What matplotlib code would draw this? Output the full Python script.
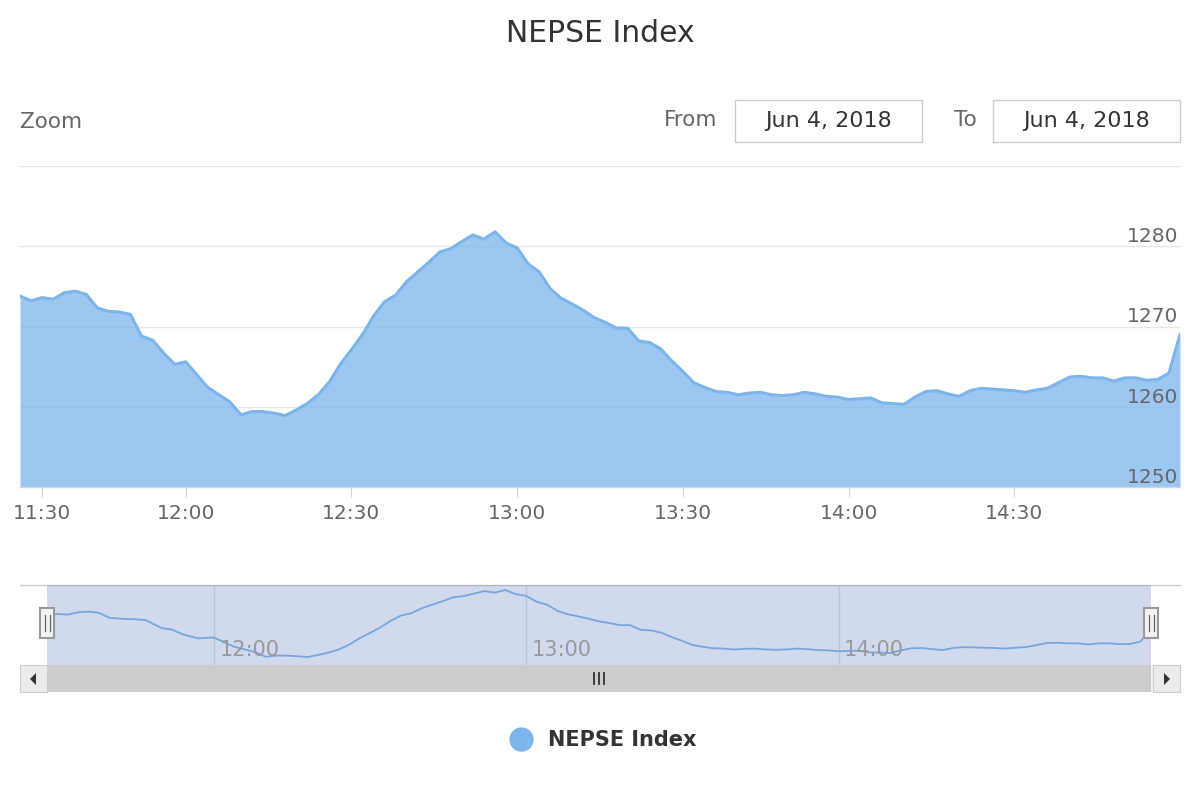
import matplotlib.pyplot as plt
import matplotlib.patches as mpatches
from matplotlib.lines import Line2D
import numpy as np
import pandas as pd

# NEPSE index intraday, Jun 4 2018 (ordinal spacing like Highstock)
open_times = ["11:28", "11:29", "11:30", "11:32", "11:34", "11:36", "11:38", "11:40",
              "11:43", "11:45", "11:47", "11:50", "11:52", "11:54", "11:57"]
later_times = list(pd.date_range("2018-06-04 12:00", "2018-06-04 15:00", freq="2min").strftime("%H:%M"))
times = open_times + later_times

values = [1273.8, 1273.2, 1273.6, 1273.4, 1274.2, 1274.4, 1274.0, 1272.3, 1271.9, 1271.8,
          1271.5, 1268.8, 1268.3, 1266.7, 1265.3, 1265.6, 1264.0, 1262.4, 1261.5, 1260.6,
          1259.0, 1259.4, 1259.4, 1259.2, 1258.9, 1259.6, 1260.4, 1261.5, 1263.1, 1265.3,
          1267.1, 1269.0, 1271.3, 1273.1, 1273.9, 1275.6, 1276.8, 1278.0, 1279.3, 1279.7,
          1280.6, 1281.4, 1280.9, 1281.8, 1280.4, 1279.8, 1277.8, 1276.8, 1274.7, 1273.5,
          1272.8, 1272.0, 1271.1, 1270.5, 1269.8, 1269.8, 1268.2, 1268.0, 1267.2, 1265.7,
          1264.4, 1263.0, 1262.4, 1261.9, 1261.8, 1261.5, 1261.7, 1261.8, 1261.5, 1261.4,
          1261.5, 1261.8, 1261.6, 1261.3, 1261.2, 1260.9, 1261.0, 1261.1, 1260.5, 1260.4,
          1260.3, 1261.2, 1261.9, 1262.0, 1261.6, 1261.3, 1262.0, 1262.3, 1262.2, 1262.1,
          1262.0, 1261.8, 1262.1, 1262.3, 1263.0, 1263.7, 1263.8, 1263.6, 1263.6, 1263.2,
          1263.6, 1263.6, 1263.3, 1263.4, 1264.2, 1269.0]

series_name = "NEPSE Index"
x_tick_labels = ["11:30", "12:00", "12:30", "13:00", "13:30", "14:00", "14:30"]
nav_tick_labels = ["12:00", "13:00", "14:00"]
y_grid = [1250, 1260, 1270, 1280, 1290]
y_labels = [1250, 1260, 1270, 1280]
date_from = "Jun 4, 2018"
date_to = "Jun 4, 2018"

W, H = 1200, 800
blue = "#7cb5ec"
mask_col = (102 / 255, 133 / 255, 194 / 255)


def fig_rect(left, top, right, bottom):
    return [left / W, 1 - bottom / H, (right - left) / W, (bottom - top) / H]


fig = plt.figure(figsize=(12, 8), dpi=100)

# main chart
ax = fig.add_axes(fig_rect(20, 166, 1180, 487))
idx = np.arange(len(values))
ax.fill_between(idx, values, 1250, color=blue, alpha=0.75, lw=0, zorder=2)
ax.plot(idx, values, color=blue, lw=2.2, zorder=3, solid_joinstyle="round")
ax.set_xlim(0, len(values) - 1)
ax.set_ylim(1250, 1290)
ax.set_yticks(y_grid)
ax.tick_params(axis="y", length=0, labelleft=False)
ax.grid(axis="y", color="#e6e6e6", lw=1)
ax.set_axisbelow(True)
for s in ["top", "left", "right"]:
    ax.spines[s].set_visible(False)
ax.spines["bottom"].set_color("#ccd6eb")
ax.spines["bottom"].set_linewidth(1)
ax.set_xticks([times.index(t) for t in x_tick_labels], x_tick_labels)
ax.tick_params(axis="x", length=7.5, width=0.8, color="#ccd6eb",
               labelsize=14.5, labelcolor="#666666", pad=5)
for v in y_labels:
    ax.annotate(f"{v}", xy=(1, v), xycoords=("axes fraction", "data"),
                xytext=(-1.5, 3), textcoords="offset points", ha="right",
                va="baseline", fontsize=14.5, color="#666666", zorder=5)

# navigator
nav = fig.add_axes(fig_rect(20, 585, 1180, 665))
mins = np.array([int(t[:2]) * 60 + int(t[3:]) for t in times])
frac_lo, frac_hi = 27 / 1160, 1131 / 1160
full = (mins[-1] - mins[0]) / (frac_hi - frac_lo)
lo = mins[0] - frac_lo * full
nav.set_xlim(lo, lo + full)
nav.set_ylim(1256.2, 1283.5)
nav.plot(mins, values, color=blue, lw=1.3, zorder=2)
nav.axvspan(mins[0], mins[-1], color=mask_col, alpha=0.3, lw=0, zorder=3)
for t in nav_tick_labels:
    tm = int(t[:2]) * 60 + int(t[3:])
    nav.axvline(tm, color="#e0e0e0", lw=1, zorder=1)
    nav.annotate(t, xy=(tm, 0), xycoords=("data", "axes fraction"),
                 xytext=(4, 6.5), textcoords="offset points", ha="left",
                 va="baseline", fontsize=15, color="#999999", zorder=4)
nav.set_xticks([])
nav.set_yticks([])
for s in ["left", "right", "bottom"]:
    nav.spines[s].set_visible(False)
nav.spines["top"].set_color("#cccccc")
nav.spines["top"].set_linewidth(1)

# overlay in pixel coordinates for the UI bits
ov = fig.add_axes([0, 0, 1, 1])
ov.set_xlim(0, W)
ov.set_ylim(H, 0)
ov.axis("off")

fig.text(0.5, 1 - 33 / H, series_name, ha="center", va="center",
         fontsize=21.5, color="#333333")
ov.text(20, 122, "Zoom", ha="left", va="center", fontsize=15.5, color="#666666")
ov.text(717, 120, "From", ha="right", va="center", fontsize=15.5, color="#666666")
ov.text(977, 120, "To", ha="right", va="center", fontsize=15.5, color="#666666")
for bx, label in [(735, date_from), (993, date_to)]:
    ov.add_patch(mpatches.Rectangle((bx, 100), 187, 42, fc="white", ec="#cccccc", lw=1))
    ov.text(bx + 93.5, 121, label, ha="center", va="center", fontsize=16, color="#333333")

# scrollbar
ov.add_patch(mpatches.Rectangle((20, 665), 1160, 27, fc="#f2f2f2", ec="none"))
ov.add_patch(mpatches.Rectangle((47, 665), 1104, 27, fc="#cccccc", ec="none"))
ov.add_patch(mpatches.Rectangle((20, 665), 27, 27, fc="#ebebeb", ec="#cccccc", lw=0.8))
ov.add_patch(mpatches.Rectangle((1153, 665), 27, 27, fc="#ebebeb", ec="#cccccc", lw=0.8))
ov.add_patch(mpatches.Polygon([(36, 673), (36, 685), (30, 679)], fc="#333333", ec="none"))
ov.add_patch(mpatches.Polygon([(1164, 673), (1164, 685), (1170, 679)], fc="#333333", ec="none"))
for rx in [594, 599, 604]:
    ov.plot([rx, rx], [673, 684], color="#333333", lw=1.3)

# navigator handles
for hx in [47, 1151]:
    ov.add_patch(mpatches.Rectangle((hx - 7, 608), 14, 30, fc="#f2f2f2", ec="#999999", lw=1.5))
    for dx in [-2.5, 2.5]:
        ov.plot([hx + dx, hx + dx], [615, 631], color="#666666", lw=0.9)

# legend
handle = Line2D([], [], marker="o", ls="none", ms=16.5, color=blue)
fig.legend([handle], [series_name], loc="center", bbox_to_anchor=(0.4985, 1 - 740 / H),
           frameon=False, handletextpad=0.3, prop={"size": 15, "weight": "bold"},
           labelcolor="#333333")

fig.savefig("out.png", dpi=100)
